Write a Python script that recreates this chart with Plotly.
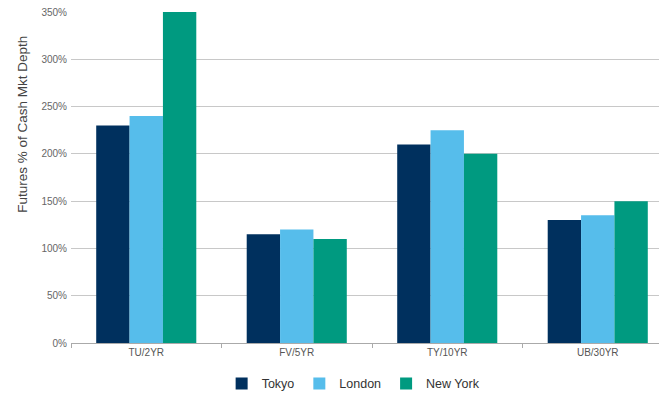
import plotly.graph_objects as go

categories = ["TU/2YR", "FV/5YR", "TY/10YR", "UB/30YR"]
tokyo = [230, 115, 210, 130]
london = [240, 120, 225, 135]
new_york = [350, 110, 200, 150]
y_ticks = [0, 50, 100, 150, 200, 250, 300, 350]
y_tick_labels = [f"{v}%" for v in y_ticks]

FONT = "Liberation Sans, Arial, sans-serif"

fig = go.Figure()
for name, vals, col in [("Tokyo", tokyo, "#00305E"),
                        ("London", london, "#56BDEB"),
                        ("New York", new_york, "#009A80")]:
    fig.add_trace(go.Bar(x=categories, y=vals, name=name, marker_color=col,
                         marker_line_width=0))

fig.update_layout(
    width=661, height=393,
    margin=dict(l=71, r=2, t=12, b=50, autoexpand=False),
    plot_bgcolor="white", paper_bgcolor="white",
    barmode="group", bargap=0.335, bargroupgap=0,
    font=dict(family=FONT, size=10, color="#444"),
    showlegend=True,
    legend=dict(orientation="h", x=0.535, xanchor="center", xref="container",
                y=0.023, yanchor="middle", yref="container",
                font=dict(size=12.5, color="#333"),
                traceorder="normal"),
    xaxis=dict(range=[-0.5, 3.407], showline=True, linecolor="#aaa", linewidth=1,
               ticks="outside", tickson="boundaries", ticklen=4, tickcolor="#aaa",
               tickfont=dict(size=10, color="#555")),
    yaxis=dict(range=[0, 350], tickvals=y_ticks, ticktext=y_tick_labels,
               showgrid=True, gridcolor="#c8c8c8", gridwidth=1, zeroline=False,
               tickfont=dict(size=10, color="#666"), ticklabelstandoff=3),
    annotations=[dict(text="Futures % of Cash Mkt Depth", textangle=-90,
                      xref="paper", yref="paper", x=-0.083, y=0.66,
                      xanchor="center", yanchor="middle", showarrow=False,
                      font=dict(size=13.5, color="#444", family=FONT))],
)

fig.write_html("out.html")
